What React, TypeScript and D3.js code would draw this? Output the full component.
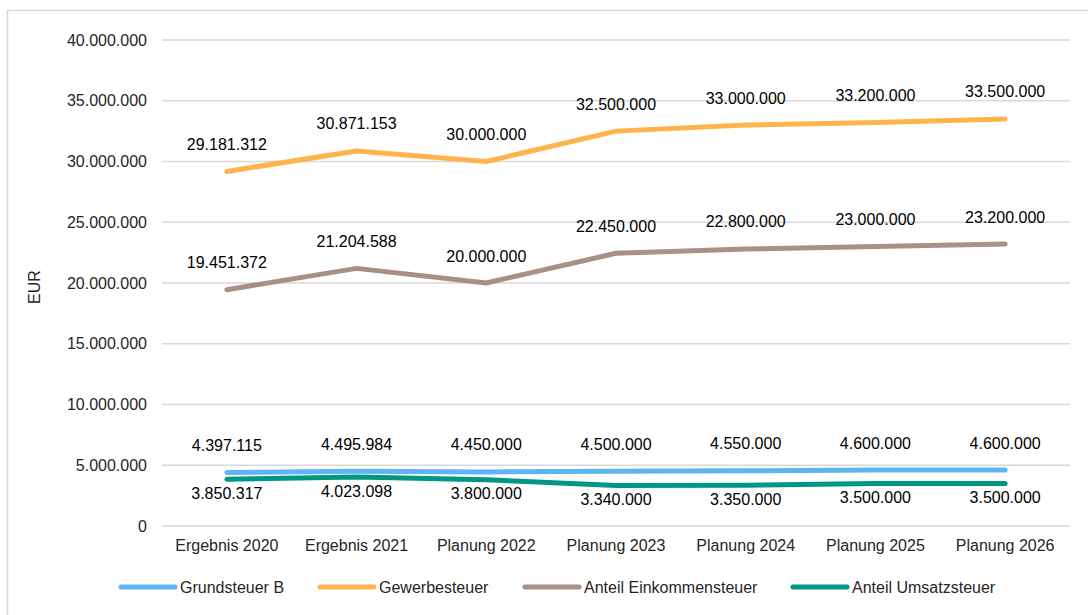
import React from "react";
import * as d3 from "d3";

const categories = ["Ergebnis 2020", "Ergebnis 2021", "Planung 2022", "Planung 2023", "Planung 2024", "Planung 2025", "Planung 2026"];
const grundsteuerB = [4397115, 4495984, 4450000, 4500000, 4550000, 4600000, 4600000];
const gewerbesteuer = [29181312, 30871153, 30000000, 32500000, 33000000, 33200000, 33500000];
const einkommensteuer = [19451372, 21204588, 20000000, 22450000, 22800000, 23000000, 23200000];
const umsatzsteuer = [3850317, 4023098, 3800000, 3340000, 3350000, 3500000, 3500000];
const yTicks = [0, 5000000, 10000000, 15000000, 20000000, 25000000, 30000000, 35000000, 40000000];

const series = [
  { name: "Grundsteuer B", values: grundsteuerB, color: "#5FB4F3", below: false },
  { name: "Gewerbesteuer", values: gewerbesteuer, color: "#FFB44B", below: false },
  { name: "Anteil Einkommensteuer", values: einkommensteuer, color: "#A89087", below: false },
  { name: "Anteil Umsatzsteuer", values: umsatzsteuer, color: "#009884", below: true },
];
const legendX = [121, 320, 525, 793];

const fmt = (v: number) => v === 0 ? "0" : d3.format(",")(v).replace(/,/g, ".");

export default function App() {
  const W = 1088, H = 615;
  const left = 162, right = 1070, top = 40, bottom = 526;
  const x = d3.scaleBand<string>().domain(categories).range([left - 8, right - 8]);
  const cx = (c: string) => (x(c) as number) + x.bandwidth() / 2 + 8;
  const y = d3.scaleLinear().domain([0, 40000000]).range([bottom, top]);
  const font = "'Liberation Sans', Arial, sans-serif";
  return (
    <svg width={W} height={H} style={{ position: "absolute", left: 0, top: 0 }} fontFamily={font}>
      <rect x={7.5} y={10.5} width={1200} height={700} fill="#fff" stroke="#d9d9d9" strokeWidth={1.5} />
      {yTicks.map((t) => (
        <g key={t}>
          <line x1={left} x2={right} y1={y(t)} y2={y(t)} stroke="#d9d9d9" strokeWidth={1.5} />
          <text x={147} y={y(t) + 5.5} textAnchor="end" fontSize={16} fill="#262626">{fmt(t)}</text>
        </g>
      ))}
      <text transform={`translate(40,${(top + bottom) / 2 + 4}) rotate(-90)`} textAnchor="middle" fontSize={16} fill="#262626">EUR</text>
      {categories.map((c) => (
        <text key={c} x={cx(c)} y={551} textAnchor="middle" fontSize={16} fill="#262626">{c}</text>
      ))}
      {series.map((s) => {
        const line = d3.line<number>().x((_, i) => cx(categories[i])).y((v) => y(v));
        return (
          <g key={s.name}>
            <path d={line(s.values) || ""} fill="none" stroke={s.color} strokeWidth={5} strokeLinecap="round" strokeLinejoin="round" />
            {s.values.map((v, i) => (
              <text key={i} x={cx(categories[i])} y={s.below ? y(v) + 19.5 : y(v) - 21.5} textAnchor="middle" fontSize={16} fill="#000">{fmt(v)}</text>
            ))}
          </g>
        );
      })}
      {series.map((s, i) => (
        <g key={s.name}>
          <line x1={legendX[i]} x2={legendX[i] + 54} y1={587} y2={587} stroke={s.color} strokeWidth={5} strokeLinecap="round" />
          <text x={legendX[i] + 59} y={592.5} fontSize={16} fill="#262626">{s.name}</text>
        </g>
      ))}
    </svg>
  );
}
